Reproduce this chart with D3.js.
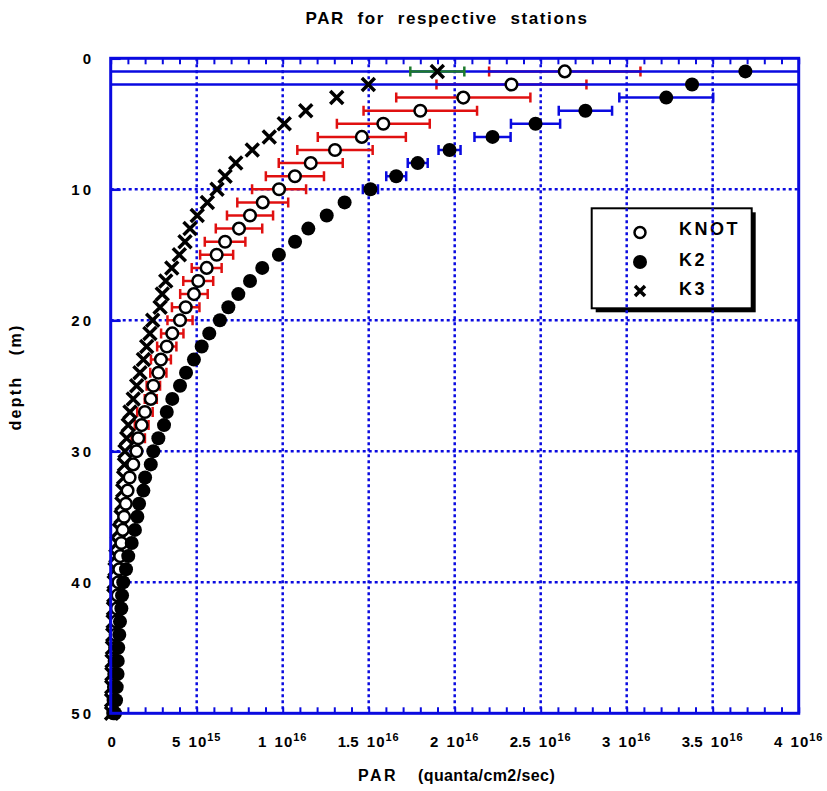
<!DOCTYPE html>
<html>
<head>
<meta charset="utf-8">
<script src="https://cdn.jsdelivr.net/npm/d3@7"></script>
<style>
  body { margin: 0; background: #fff; }
  text { font-family: Arial, "Liberation Sans", sans-serif; font-weight: bold; white-space: pre; }
</style>
</head>
<body>
<svg id="chart" width="827" height="791"></svg>
<script>
// values in units of 1e15 quanta/cm2/sec
const depths = [1,2,3,4,5,6,7,8,9,10,11,12,13,14,15,16,17,18,19,20,21,22,23,24,25,
  26,27,28,29,30,31,32,33,34,35,36,37,38,39,40,41,42,43,44,45,46,47,48,49,50];

const knot = [26.4,23.3,20.5,18.0,15.85,14.6,13.04,11.63,10.71,9.79,8.84,8.10,7.46,6.65,6.16,
  5.58,5.09,4.84,4.36,4.03,3.58,3.26,2.92,2.77,2.48,2.33,1.99,1.80,1.60,1.50,1.31,1.10,0.98,
  0.88,0.78,0.70,0.62,0.55,0.50,0.45,0.40,0.36,0.32,0.29,0.26,0.23,0.21,0.19,0.17,0.15];
const knotErr = [4.4,4.36,3.9,3.3,2.7,2.56,2.19,1.86,1.69,1.57,1.48,1.34,1.35,1.18,0.96,
  0.87,0.87,0.8,0.8,0.73,0.65,0.56,0.58,0.47,0.39,0.35,0.45,0.4,0.39,0,0,0,0,
  0,0,0,0,0,0,0,0,0,0,0,0,0,0,0,0,0];

const k2 = [36.9,33.8,32.3,27.6,24.7,22.2,19.7,17.85,16.6,15.1,13.6,12.56,11.49,10.72,9.78,
  8.81,8.10,7.42,6.84,6.35,5.73,5.29,4.84,4.38,4.03,3.58,3.26,3.10,2.77,2.48,2.33,2.0,1.90,
  1.65,1.55,1.41,1.22,1.02,0.89,0.73,0.66,0.62,0.54,0.50,0.44,0.41,0.40,0.35,0.31,0.25];
const k2Err = [42,36,2.73,1.55,1.43,1.05,0.64,0.58,0.58,0.44,0,0,0,0,0,
  0,0,0,0,0,0,0,0,0,0,0,0,0,0,0,0,0,0,
  0,0,0,0,0,0,0,0,0,0,0,0,0,0,0,0,0];

const k3 = [18.99,14.98,13.14,11.34,10.09,9.22,8.23,7.27,6.65,6.18,5.62,5.03,4.61,4.32,3.99,
  3.55,3.2,3.0,2.87,2.44,2.28,2.09,1.90,1.70,1.51,1.31,1.12,1.02,0.93,0.83,0.80,0.75,0.70,
  0.65,0.60,0.50,0.38,0.30,0.25,0.20,0.18,0.16,0.14,0.12,0.10,0.08,0.07,0.06,0.05,0.05];
const k3Err = [1.57,0,0,0,0,0,0,0,0,0,0,0,0,0,0,
  0,0,0,0,0,0,0,0,0,0,0,0,0,0,0,0,0,0,
  0,0,0,0,0,0,0,0,0,0,0,0,0,0,0,0,0];

const xTicks = [0,5,10,15,20,25,30,35,40];
const xTickMant = ["0","5","1","1.5","2","2.5","3","3.5","4"];
const xTickExp = ["","15","16","16","16","16","16","16","16"];
const yTicks = [0,10,20,30,40,50];
const legendLabels = ["KNOT","K2","K3"];

const blue = "#0a0ae0";
const svg = d3.select("#chart");

const x = d3.scaleLinear().domain([0, 40]).range([110.7, 798.7]);
const y = d3.scaleLinear().domain([0, 50]).range([58.3, 713.3]);

svg.append("defs").append("clipPath").attr("id", "plot")
  .append("rect").attr("x", x(0)).attr("y", y(0))
  .attr("width", x(40) - x(0)).attr("height", y(50) - y(0));

// title
svg.append("text").attr("x", 447).attr("y", 24).attr("text-anchor", "middle")
  .attr("font-size", 17).attr("letter-spacing", 1.6).text("PAR  for  respective  stations");

// legend box (grid is drawn over it)
const lg = svg.append("g");
lg.append("rect").attr("x", 595.7).attr("y", 212.3).attr("width", 160).attr("height", 100).attr("fill", "#000");
lg.append("rect").attr("x", 591.7).attr("y", 208.3).attr("width", 160).attr("height", 100)
  .attr("fill", "#fff").attr("stroke", "#000").attr("stroke-width", 2);
const ly = [232.5, 262, 291];
const lt = [235, 266, 294.5];
lg.append("circle").attr("cx", 640).attr("cy", ly[0]).attr("r", 5.5)
  .attr("fill", "#fff").attr("stroke", "#000").attr("stroke-width", 2.5);
lg.append("circle").attr("cx", 640).attr("cy", ly[1]).attr("r", 7).attr("fill", "#000");
lg.append("path").attr("transform", `translate(640,${ly[2]})`)
  .attr("d", "M-5,-5L5,5M-5,5L5,-5").attr("stroke", "#000").attr("stroke-width", 3.5);
lg.selectAll("text.leg").data(legendLabels).join("text").attr("class", "leg")
  .attr("x", 679).attr("y", (d, i) => lt[i]).attr("font-size", 18)
  .attr("letter-spacing", 2.5).text(d => d);

// grid
const grid = svg.append("g").attr("stroke", blue).attr("stroke-width", 2.5).attr("stroke-dasharray", "3,3");
grid.selectAll("line.v").data(xTicks.slice(1, -1)).join("line").attr("class", "v")
  .attr("x1", d => x(d)).attr("x2", d => x(d)).attr("y1", y(0)).attr("y2", y(50));
grid.selectAll("line.h").data(yTicks.slice(1, -1)).join("line").attr("class", "h")
  .attr("y1", d => y(d)).attr("y2", d => y(d)).attr("x1", x(0)).attr("x2", x(40));

// minor ticks top & bottom
svg.append("g").attr("transform", `translate(0,${y(0)})`)
  .call(d3.axisTop(x).ticks(40).tickSize(-6).tickFormat(""))
  .call(g => g.select(".domain").remove())
  .call(g => g.selectAll("line").attr("stroke", blue).attr("stroke-width", 2));
svg.append("g").attr("transform", `translate(0,${y(50)})`)
  .call(d3.axisBottom(x).ticks(40).tickSize(-6).tickFormat(""))
  .call(g => g.select(".domain").remove())
  .call(g => g.selectAll("line").attr("stroke", blue).attr("stroke-width", 2));
// major ticks left
svg.append("g").attr("transform", `translate(${x(0)},0)`)
  .call(d3.axisLeft(y).tickValues(yTicks).tickSize(-10).tickFormat(""))
  .call(g => g.select(".domain").remove())
  .call(g => g.selectAll("line").attr("stroke", blue).attr("stroke-width", 2.5));

// error bars
const series = [
  { v: knot, e: knotErr, c: "#e01010" },
  { v: k2, e: k2Err, c: blue },
  { v: k3, e: k3Err, c: "#1c7a2c" }
];
const eb = svg.append("g").attr("clip-path", "url(#plot)");
series.forEach(s => {
  const rows = depths.map((d, i) => ({ d, v: s.v[i], e: s.e[i] })).filter(r => r.e > 0);
  const g = eb.append("g").attr("stroke", s.c).attr("stroke-width", 2.5);
  g.selectAll("line.bar").data(rows).join("line").attr("class", "bar")
    .attr("x1", r => x(r.v - r.e)).attr("x2", r => x(r.v + r.e))
    .attr("y1", r => y(r.d)).attr("y2", r => y(r.d));
  g.selectAll("line.capl").data(rows).join("line").attr("class", "capl")
    .attr("x1", r => x(r.v - r.e)).attr("x2", r => x(r.v - r.e))
    .attr("y1", r => y(r.d) - 5).attr("y2", r => y(r.d) + 5);
  g.selectAll("line.capr").data(rows).join("line").attr("class", "capr")
    .attr("x1", r => x(r.v + r.e)).attr("x2", r => x(r.v + r.e))
    .attr("y1", r => y(r.d) - 5).attr("y2", r => y(r.d) + 5);
});

// markers
const mk = svg.append("g");
mk.selectAll("path.k3").data(depths).join("path").attr("class", "k3")
  .attr("transform", (d, i) => `translate(${x(k3[i])},${y(d)})`)
  .attr("d", "M-6.5,-6.5L6.5,6.5M-6.5,6.5L6.5,-6.5").attr("stroke", "#000").attr("stroke-width", 3.5).attr("fill", "none");
mk.selectAll("circle.knot").data(depths).join("circle").attr("class", "knot")
  .attr("cx", (d, i) => x(knot[i])).attr("cy", d => y(d)).attr("r", 5.8)
  .attr("fill", "#fff").attr("stroke", "#000").attr("stroke-width", 2.5);
mk.selectAll("circle.k2").data(depths).join("circle").attr("class", "k2")
  .attr("cx", (d, i) => x(k2[i])).attr("cy", d => y(d)).attr("r", 7).attr("fill", "#000");

// frame
svg.append("rect").attr("x", x(0)).attr("y", y(0)).attr("width", x(40) - x(0)).attr("height", y(50) - y(0))
  .attr("fill", "none").attr("stroke", blue).attr("stroke-width", 3);

// x tick labels
const xl = svg.append("g").attr("font-size", 15);
xTicks.forEach((t, i) => {
  const txt = xl.append("text").attr("x", x(t) + (i === 0 ? 1 : 0)).attr("y", 747).attr("text-anchor", "middle");
  if (i === 0) { txt.text("0"); return; }
  txt.append("tspan").text(xTickMant[i] + "  ");
  txt.append("tspan").attr("letter-spacing", 1).text("10");
  txt.append("tspan").attr("dy", -6).attr("font-size", 11).attr("letter-spacing", 1).text(xTickExp[i]);
});

// y tick labels
svg.append("g").selectAll("text").data(yTicks).join("text")
  .attr("x", 94).attr("y", d => y(d) + 5.5).attr("text-anchor", "end")
  .attr("font-size", 15).attr("letter-spacing", 3).text(d => d);

// axis titles
svg.append("text").attr("x", 358).attr("y", 781).attr("font-size", 16)
  .attr("letter-spacing", 2.5).text("PAR");
svg.append("text").attr("x", 418).attr("y", 781).attr("font-size", 16)
  .attr("letter-spacing", 0.4).text("(quanta/cm2/sec)");
svg.append("text").attr("transform", "translate(21,377) rotate(-90)")
  .attr("text-anchor", "middle").attr("font-size", 16).attr("letter-spacing", 2.3).text("depth   (m)");
</script>
</body>
</html>
